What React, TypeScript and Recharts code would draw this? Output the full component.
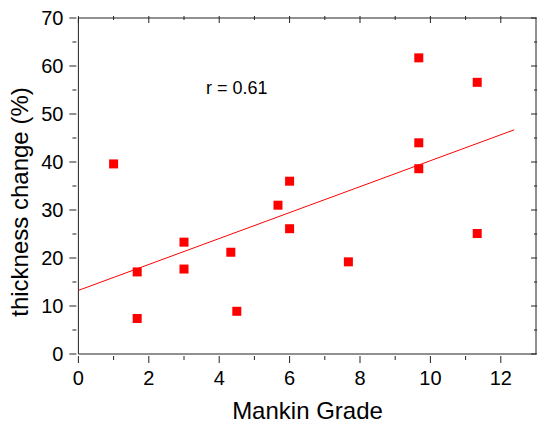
import { ScatterChart, Scatter, XAxis, YAxis } from 'recharts';

// Mankin grade vs thickness change
const mankinGrade = [1, 1.67, 1.67, 3, 3, 4.33, 4.5, 5.67, 6, 6, 7.67, 9.67, 9.67, 9.67, 11.33, 11.33];
const thicknessChange = [39.6, 17.1, 7.4, 23.3, 17.7, 21.2, 8.9, 31.0, 36.0, 26.1, 19.2, 61.7, 44.0, 38.6, 56.6, 25.1];

// linear fit, ends of the drawn line
const fitX = [0, 12.38];
const fitY = [13.25, 46.7];

const xTicks = [0, 1, 2, 3, 4, 5, 6, 7, 8, 9, 10, 11, 12];
const yTicks = [0, 5, 10, 15, 20, 25, 30, 35, 40, 45, 50, 55, 60, 65, 70];

const points = mankinGrade.map((g, i) => ({ x: g, y: thicknessChange[i] }));
const fitLine = fitX.map((x, i) => ({ x, y: fitY[i] }));

const FONT = '"Liberation Sans", Arial, sans-serif';
const INK = '#000';
const AXIS = '#222';

function axisTick(side: 'bottom' | 'top' | 'left' | 'right') {
  return (props: any) => {
    const { x, y, payload } = props;
    const v = payload.value;
    const horizontal = side === 'bottom' || side === 'top';
    const major = horizontal ? v % 2 === 0 : v % 10 === 0;
    const len = major ? 7 : 4;
    if (side === 'bottom') {
      return (
        <g>
          <line x1={x} y1={y} x2={x} y2={y + len} stroke={AXIS} />
          {major && (
            <text x={x} y={y + 29} textAnchor="middle" fontSize={20} fill={INK} fontFamily={FONT}>
              {v}
            </text>
          )}
        </g>
      );
    }
    if (side === 'top') {
      return <line x1={x} y1={y} x2={x} y2={y + len} stroke={AXIS} />;
    }
    if (side === 'left') {
      return (
        <g>
          <line x1={x} y1={y} x2={x - len} y2={y} stroke={AXIS} />
          {major && (
            <text x={x - 13} y={y + 7} textAnchor="end" fontSize={20} fill={INK} fontFamily={FONT}>
              {v}
            </text>
          )}
        </g>
      );
    }
    return <line x1={x} y1={y} x2={x - len} y2={y} stroke={AXIS} />;
  };
}

const square = (props: any) => (
  <rect x={props.cx - 4.5} y={props.cy - 4.5} width={9} height={9} fill="#ff0000" />
);

export default function App() {
  return (
    <div style={{ position: 'absolute', left: 0, top: 0, width: 537, height: 423, background: '#fff', fontFamily: FONT }}>
      <ScatterChart width={537} height={423} margin={{ top: 17, right: 0, bottom: 0, left: 0 }}>
        <XAxis
          type="number"
          dataKey="x"
          domain={[0, 13]}
          ticks={xTicks}
          interval={0}
          tickSize={0}
          tickLine={false}
          height={69}
          axisLine={{ stroke: AXIS }}
          tick={axisTick('bottom')}
          allowDataOverflow
        />
        <XAxis
          xAxisId="top"
          orientation="top"
          type="number"
          dataKey="x"
          domain={[0, 13]}
          ticks={xTicks}
          interval={0}
          tickSize={0}
          tickLine={false}
          height={1}
          axisLine={{ stroke: AXIS }}
          tick={axisTick('top')}
          allowDataOverflow
        />
        <YAxis
          type="number"
          dataKey="y"
          domain={[0, 70]}
          ticks={yTicks}
          interval={0}
          tickSize={0}
          tickLine={false}
          width={78.4}
          axisLine={{ stroke: AXIS }}
          tick={axisTick('left')}
          allowDataOverflow
        />
        <YAxis
          yAxisId="right"
          orientation="right"
          type="number"
          dataKey="y"
          domain={[0, 70]}
          ticks={yTicks}
          interval={0}
          tickSize={0}
          tickLine={false}
          width={1}
          axisLine={{ stroke: AXIS }}
          tick={axisTick('right')}
          allowDataOverflow
        />
        <Scatter
          data={fitLine}
          line={{ stroke: '#ff0000', strokeWidth: 1 }}
          shape={() => <g />}
          isAnimationActive={false}
        />
        <Scatter
          xAxisId="top"
          yAxisId="right"
          data={fitLine}
          shape={() => <g />}
          isAnimationActive={false}
        />
        <Scatter data={points} shape={square} isAnimationActive={false} />
      </ScatterChart>
      <div style={{ position: 'absolute', left: 206, top: 77, fontSize: 18, color: INK, whiteSpace: 'nowrap', lineHeight: '22px' }}>
        r = 0.61
      </div>
      <div style={{ position: 'absolute', left: 0, top: 397, width: 615, textAlign: 'center', fontSize: 24, color: INK, lineHeight: '28px' }}>
        Mankin Grade
      </div>
      <div
        style={{
          position: 'absolute',
          left: 20,
          top: 202,
          transform: 'translate(-50%, -50%) rotate(-90deg)',
          fontSize: 24,
          color: INK,
          whiteSpace: 'nowrap',
          lineHeight: '28px',
        }}
      >
        thickness change (%)
      </div>
    </div>
  );
}
